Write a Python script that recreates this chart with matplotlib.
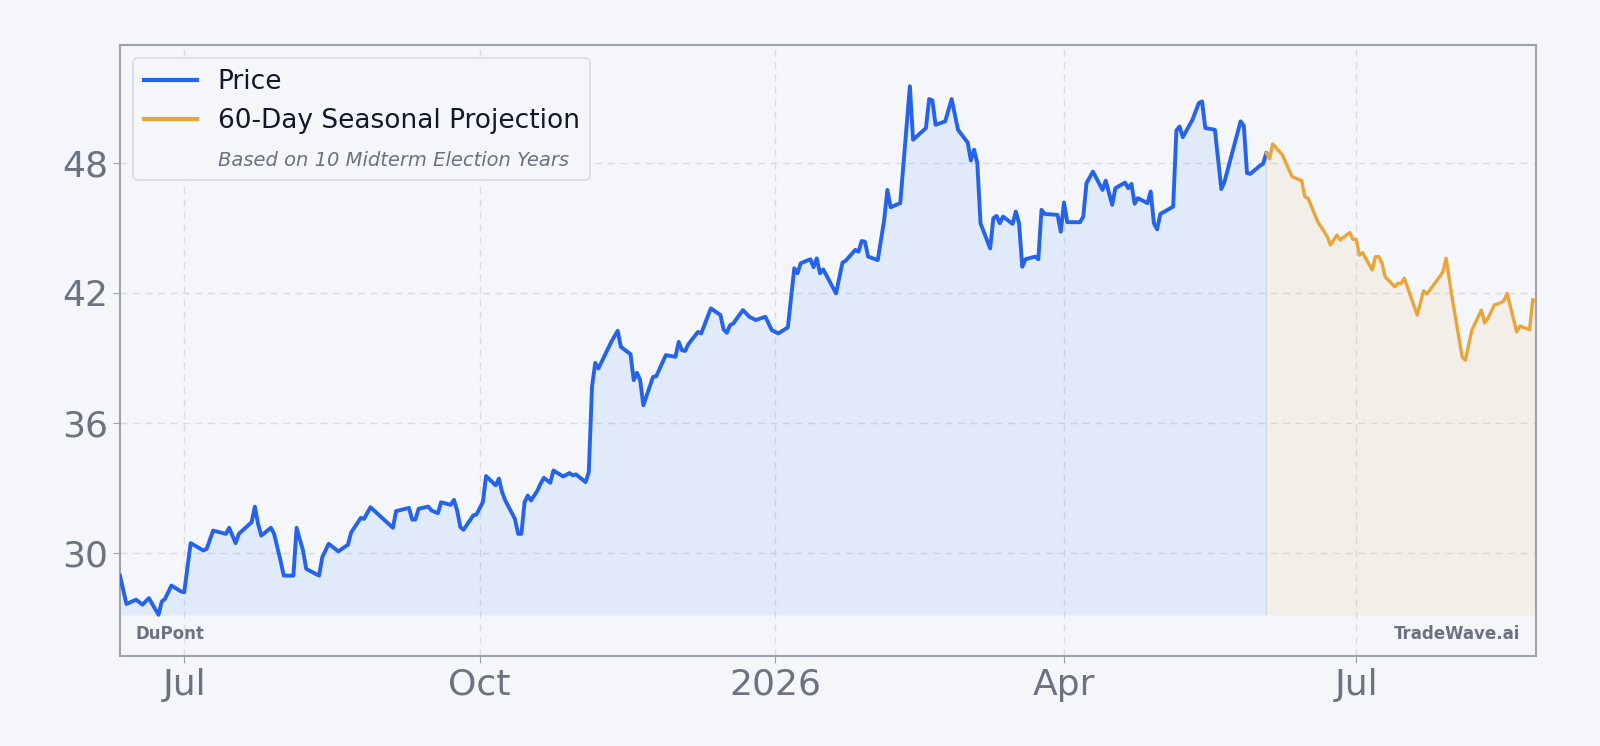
import pandas as pd
import matplotlib.pyplot as plt
from matplotlib.lines import Line2D

## data =======================================================================
price_dates = [
    "2025-06-11", "2025-06-13", "2025-06-16", "2025-06-18", "2025-06-20", "2025-06-23",
    "2025-06-24", "2025-06-25", "2025-06-27", "2025-06-30", "2025-07-01", "2025-07-03",
    "2025-07-07", "2025-07-08", "2025-07-10", "2025-07-14", "2025-07-15", "2025-07-17",
    "2025-07-18", "2025-07-22", "2025-07-23", "2025-07-24", "2025-07-25", "2025-07-28",
    "2025-07-29", "2025-07-31", "2025-08-01", "2025-08-04", "2025-08-05", "2025-08-07",
    "2025-08-08", "2025-08-12", "2025-08-13", "2025-08-15", "2025-08-18", "2025-08-21",
    "2025-08-22", "2025-08-25", "2025-08-26", "2025-08-28", "2025-09-04", "2025-09-05",
    "2025-09-09", "2025-09-10", "2025-09-11", "2025-09-12", "2025-09-15", "2025-09-16",
    "2025-09-18", "2025-09-19", "2025-09-22", "2025-09-23", "2025-09-24", "2025-09-25",
    "2025-09-26", "2025-09-29", "2025-09-30", "2025-10-02", "2025-10-03", "2025-10-06",
    "2025-10-07", "2025-10-08", "2025-10-09", "2025-10-12", "2025-10-13", "2025-10-14",
    "2025-10-15", "2025-10-16", "2025-10-17", "2025-10-19", "2025-10-20", "2025-10-21",
    "2025-10-23", "2025-10-24", "2025-10-27", "2025-10-29", "2025-10-30", "2025-10-31",
    "2025-11-03", "2025-11-04", "2025-11-05", "2025-11-06", "2025-11-07", "2025-11-11",
    "2025-11-13", "2025-11-14", "2025-11-17", "2025-11-18", "2025-11-19", "2025-11-20",
    "2025-11-21", "2025-11-24", "2025-11-25", "2025-11-28", "2025-12-01", "2025-12-02",
    "2025-12-03", "2025-12-04", "2025-12-05", "2025-12-08", "2025-12-09", "2025-12-10",
    "2025-12-12", "2025-12-15", "2025-12-16", "2025-12-17", "2025-12-18", "2025-12-19",
    "2025-12-22", "2025-12-24", "2025-12-26", "2025-12-29", "2025-12-31", "2026-01-02",
    "2026-01-05", "2026-01-07", "2026-01-08", "2026-01-09", "2026-01-12", "2026-01-13",
    "2026-01-14", "2026-01-15", "2026-01-16", "2026-01-20", "2026-01-22", "2026-01-23",
    "2026-01-26", "2026-01-27", "2026-01-28", "2026-01-29", "2026-01-30", "2026-02-02",
    "2026-02-04", "2026-02-05", "2026-02-06", "2026-02-09", "2026-02-12", "2026-02-13",
    "2026-02-17", "2026-02-18", "2026-02-19", "2026-02-20", "2026-02-23", "2026-02-25",
    "2026-02-27", "2026-03-02", "2026-03-03", "2026-03-04", "2026-03-05", "2026-03-06",
    "2026-03-09", "2026-03-10", "2026-03-11", "2026-03-12", "2026-03-13", "2026-03-16",
    "2026-03-17", "2026-03-18", "2026-03-19", "2026-03-20", "2026-03-23", "2026-03-24",
    "2026-03-25", "2026-03-26", "2026-03-30", "2026-03-31", "2026-04-01", "2026-04-02",
    "2026-04-06", "2026-04-07", "2026-04-08", "2026-04-10", "2026-04-13", "2026-04-14",
    "2026-04-16", "2026-04-17", "2026-04-20", "2026-04-21", "2026-04-22", "2026-04-23",
    "2026-04-24", "2026-04-27", "2026-04-28", "2026-04-29", "2026-04-30", "2026-05-01",
    "2026-05-05", "2026-05-06", "2026-05-07", "2026-05-08", "2026-05-11", "2026-05-13",
    "2026-05-14", "2026-05-15", "2026-05-18", "2026-05-20", "2026-05-21", "2026-05-26",
    "2026-05-27", "2026-05-28", "2026-05-29", "2026-06-01", "2026-06-02", "2026-06-03",
]
price_vals = [
    28.94, 27.63, 27.83, 27.60, 27.90, 27.13,
    27.74, 27.86, 28.48, 28.21, 28.17, 30.44,
    30.10, 30.18, 31.02, 30.87, 31.15, 30.44,
    30.87, 31.41, 32.13, 31.33, 30.79, 31.15,
    30.87, 29.63, 28.94, 28.94, 31.15, 30.10,
    29.25, 28.94, 29.79, 30.41, 30.06, 30.37,
    30.94, 31.61, 31.56, 32.10, 31.15, 31.92,
    32.07, 31.53, 31.53, 32.03, 32.13, 31.95,
    31.82, 32.33, 32.21, 32.44, 31.95, 31.18,
    31.06, 31.72, 31.76, 32.33, 33.54, 33.11,
    33.42, 32.80, 32.41, 31.56, 30.87, 30.87,
    32.33, 32.64, 32.41, 32.87, 33.19, 33.46,
    33.23, 33.80, 33.52, 33.68, 33.57, 33.62,
    33.26, 33.72, 37.66, 38.77, 38.51, 39.74,
    40.25, 39.51, 39.17, 37.97, 38.31, 37.97,
    36.81, 38.12, 38.15, 39.13, 39.05, 39.74,
    39.36, 39.32, 39.63, 40.20, 40.13, 40.51,
    41.29, 40.98, 40.31, 40.16, 40.51, 40.59,
    41.21, 40.90, 40.75, 40.90, 40.28, 40.13,
    40.41, 43.14, 42.91, 43.37, 43.56, 43.19,
    43.60, 42.91, 43.09, 41.98, 43.40, 43.49,
    43.99, 43.91, 44.40, 44.37, 43.68, 43.52,
    45.38, 46.76, 45.96, 46.15, 51.55, 49.08,
    49.62, 50.96, 50.90, 49.77, 49.93, 50.96,
    49.54, 48.95, 48.12, 48.62, 48.00, 45.22,
    44.06, 45.45, 45.56, 45.22, 45.53, 45.19,
    45.76, 45.22, 43.21, 43.56, 43.68, 43.56,
    45.84, 45.65, 45.61, 44.83, 46.18, 45.27,
    45.27, 45.53, 47.07, 47.61, 46.76, 47.19,
    46.07, 46.84, 47.10, 46.84, 47.04, 46.12,
    46.38, 46.15, 46.69, 45.22, 44.94, 45.65,
    45.99, 49.51, 49.69, 49.20, 50.00, 50.78,
    50.85, 49.62, 49.54, 46.80, 47.15, 49.93,
    49.73, 47.54, 47.50, 47.88, 47.97, 48.46,
]

proj_dates = [
    "2026-06-03", "2026-06-04", "2026-06-05", "2026-06-08", "2026-06-11", "2026-06-14",
    "2026-06-15", "2026-06-16", "2026-06-19", "2026-06-22", "2026-06-23", "2026-06-25",
    "2026-06-26", "2026-06-29", "2026-06-30", "2026-07-01", "2026-07-02", "2026-07-03",
    "2026-07-06", "2026-07-07", "2026-07-08", "2026-07-09", "2026-07-10", "2026-07-13",
    "2026-07-14", "2026-07-15", "2026-07-16", "2026-07-20", "2026-07-22", "2026-07-23",
    "2026-07-27", "2026-07-28", "2026-07-29", "2026-07-31", "2026-08-03", "2026-08-04",
    "2026-08-06", "2026-08-09", "2026-08-10", "2026-08-11", "2026-08-13", "2026-08-15",
    "2026-08-16", "2026-08-17", "2026-08-20", "2026-08-21", "2026-08-24", "2026-08-25",
    "2026-08-26",
]
proj_vals = [
    48.46, 48.19, 48.89, 48.38, 47.38, 47.19,
    46.45, 46.38, 45.30, 44.60, 44.22, 44.68,
    44.45, 44.79, 44.48, 44.48, 43.75, 43.86,
    43.06, 43.68, 43.68, 43.40, 42.75, 42.29,
    42.44, 42.44, 42.68, 40.98, 42.10, 41.95,
    42.75, 42.98, 43.60, 41.67, 39.05, 38.89,
    40.28, 41.21, 40.62, 40.82, 41.44, 41.55,
    41.64, 41.98, 40.20, 40.47, 40.31, 41.70,
    41.59,
]

y_ticks = [30, 36, 42, 48]
x_ticks = ["2025-07-01", "2025-10-01", "2026-01-01", "2026-04-01", "2026-07-01"]
x_tick_labels = ["Jul", "Oct", "2026", "Apr", "Jul"]
ticker = "DuPont"
brand = "TradeWave.ai"
# =============================================================================

px = pd.to_datetime(price_dates)
pj = pd.to_datetime(proj_dates)

bg = "#f4f6f9"
blue = "#2563eb"
orange = "#e9a53a"
gray = "#6b7280"

fig = plt.figure(figsize=(16, 7.46), dpi=100, facecolor=bg)
ax = fig.add_axes([0.075, 0.1206, 0.885, 0.819], facecolor=bg)

all_vals = price_vals + proj_vals
base = min(all_vals)
lo, hi = min(price_vals), max(price_vals)
pad = 0.078 * (hi - lo)

ax.fill_between(px, price_vals, base, color="#3b82f6", alpha=0.10, lw=0)
ax.fill_between(pj, proj_vals, base, color="#e9a53a", alpha=0.09, lw=0)
# faint edge where history ends and projection begins
ax.vlines(px[-1], base, price_vals[-1], color="#d5d9df", lw=1, zorder=1)
ax.plot(px, price_vals, color=blue, lw=2.8, zorder=3)
ax.plot(pj, proj_vals, color=orange, lw=2.4, zorder=3)

ax.set_xlim(px[0], pj[-1])
ax.set_ylim(lo - pad, hi + pad)

ax.set_yticks(y_ticks)
ax.set_yticklabels([str(v) for v in y_ticks])
ax.set_xticks(pd.to_datetime(x_ticks))
ax.set_xticklabels(x_tick_labels)
ax.tick_params(axis="both", colors="#9ca3af", labelcolor=gray, labelsize=26, length=5)
ax.grid(True, color="#d8dce2", ls=(0, (5, 4)), lw=1)
ax.set_axisbelow(True)
for s in ax.spines.values():
    s.set_color("#9ca3af")
    s.set_linewidth(1.5)

handles = [
    Line2D([], [], color=blue, lw=3),
    Line2D([], [], color=orange, lw=3),
    Line2D([], [], color="none", lw=0),
]
labels = ["Price", "60-Day Seasonal Projection", "Based on 10 Midterm Election Years"]
leg = ax.legend(handles, labels, loc="upper left", fontsize=19, frameon=True,
                facecolor=bg, edgecolor="#d8dce2", framealpha=1,
                borderaxespad=0.5, handlelength=2.0, labelspacing=0.5)
leg.get_frame().set_linewidth(1.2)
for t in leg.get_texts():
    t.set_color("#111827")
sub = leg.get_texts()[2]
sub.set_fontstyle("italic")
sub.set_fontsize(14)
sub.set_color(gray)

ax.text(0.011, 0.036, ticker, transform=ax.transAxes, fontsize=12,
        fontweight="bold", color=gray, va="center", ha="left")
ax.text(0.989, 0.036, brand, transform=ax.transAxes, fontsize=12,
        fontweight="bold", color=gray, va="center", ha="right")

plt.savefig("out.png", dpi=100, facecolor=bg)
plt.close()
